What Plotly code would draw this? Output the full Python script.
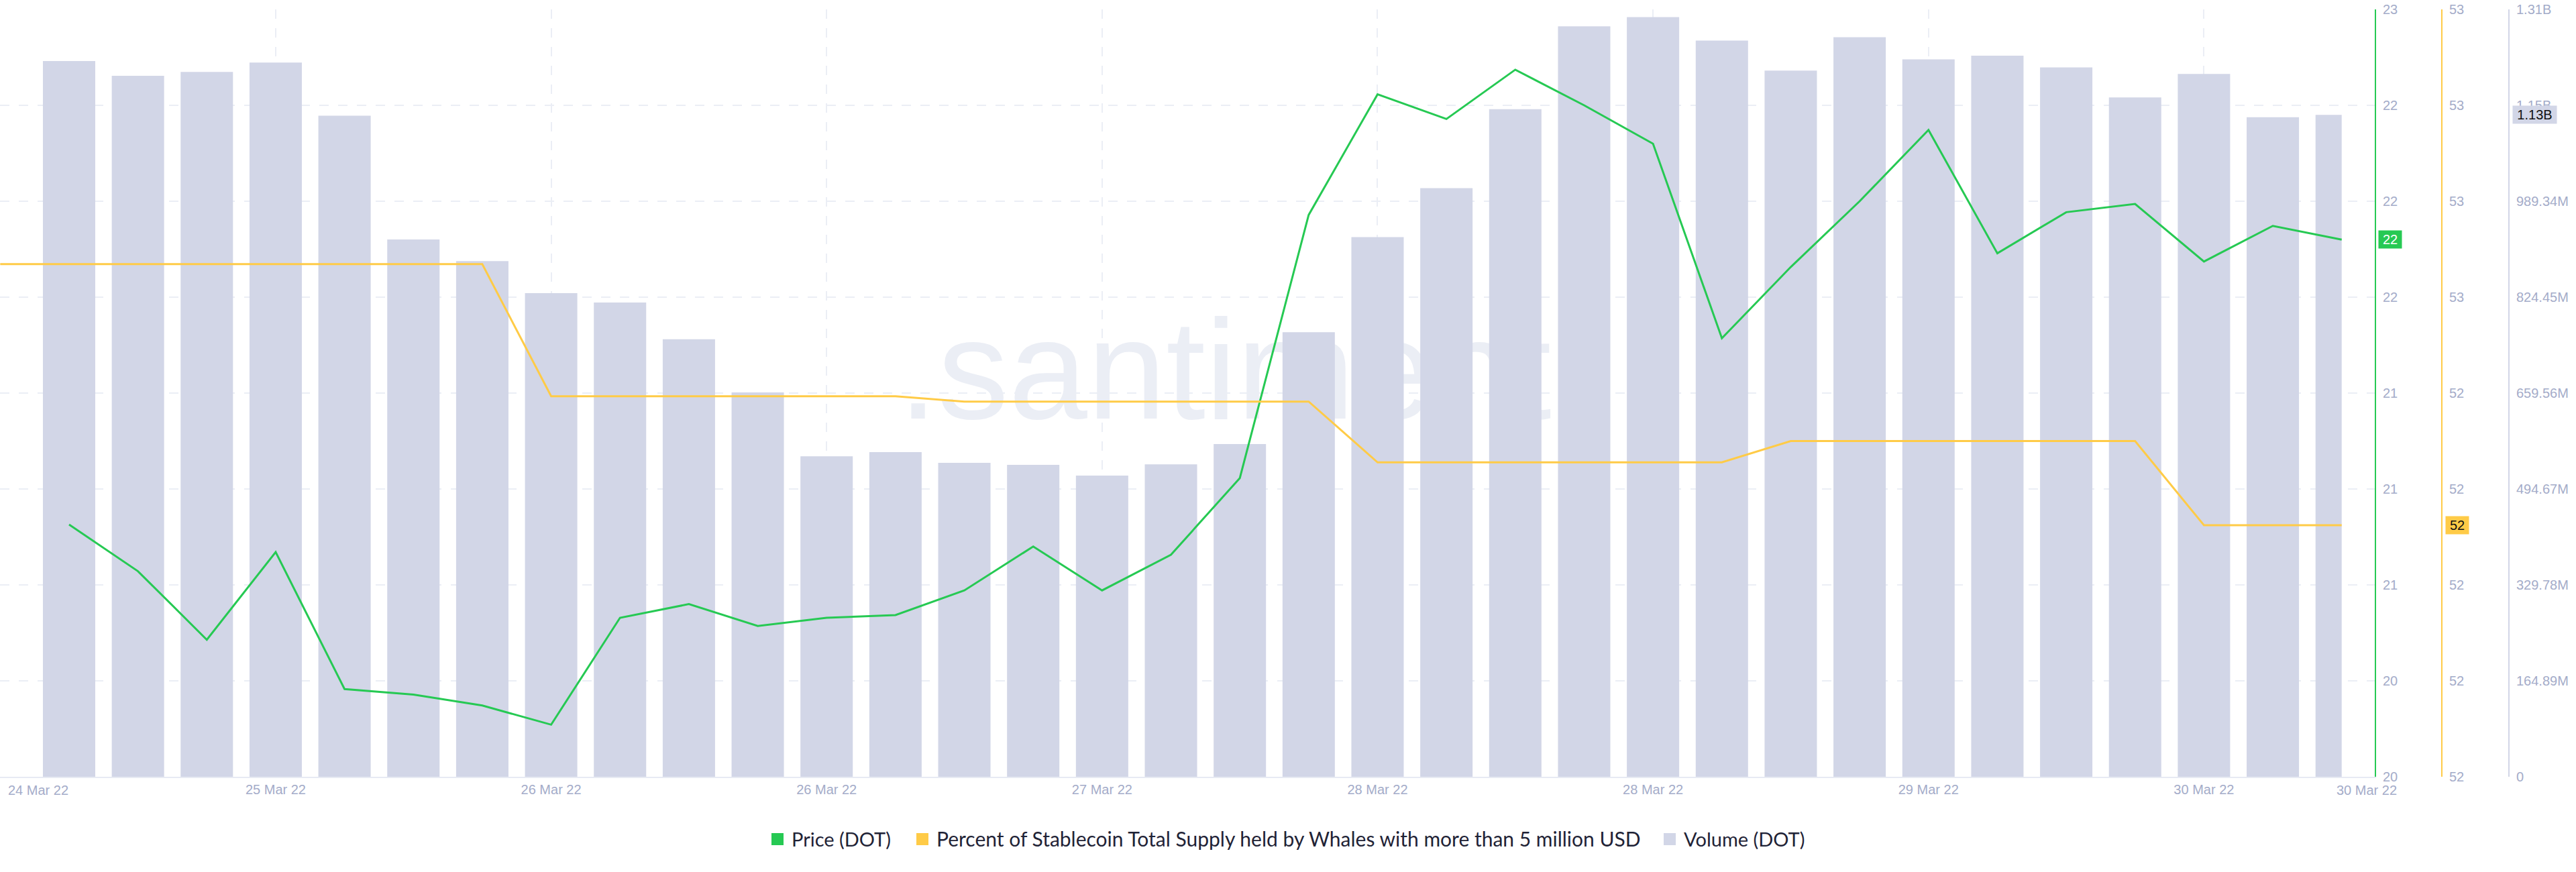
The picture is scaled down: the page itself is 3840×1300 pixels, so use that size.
import plotly.graph_objects as go

W = 3840
H = 1300
PLOT_TOP = 14
PLOT_BOTTOM = 1158

# one point every few hours, the position on the time axis
steps = list(range(-1, 34))

price = [None, 20.82, 20.65, 20.40, 20.72, 20.22, 20.20, 20.16, 20.09, 20.48, 20.53, 20.45,
         20.48, 20.49, 20.58, 20.74, 20.58, 20.71, 20.99, 21.95, 22.39, 22.30, 22.48, 22.35,
         22.21, 21.50, 21.76, 22.00, 22.26, 21.81, 21.96, 21.99, 21.78, 21.91, 21.86]

whales = [52.581, 52.581, 52.581, 52.581, 52.581, 52.581, 52.581, 52.581, 52.457, 52.457, 52.457, 52.457,
          52.457, 52.457, 52.452, 52.452, 52.452, 52.452, 52.452, 52.452, 52.395, 52.395, 52.395, 52.395,
          52.395, 52.395, 52.415, 52.415, 52.415, 52.415, 52.415, 52.415, 52.336, 52.336, 52.336]

volume = [None, 1230.2e6, 1205.1e6, 1211.6e6, 1227.8e6, 1136.4e6, 923.6e6, 886.4e6, 831.4e6, 815.3e6, 752.2e6, 660.8e6,
          550.8e6, 558.1e6, 539.5e6, 536.2e6, 517.6e6, 537.0e6, 571.8e6, 764.3e6, 927.7e6, 1011.8e6, 1147.7e6, 1290.0e6,
          1306.0e6, 1265.5e6, 1213.8e6, 1271.2e6, 1233.2e6, 1239.6e6, 1219.4e6, 1167.7e6, 1208.1e6, 1133.7e6, 1137.7e6]

date_ticks = [-1, 3, 7, 11, 15, 19, 23, 27, 31]
date_labels = ["", "25 Mar 22", "26 Mar 22", "26 Mar 22", "27 Mar 22", "28 Mar 22", "28 Mar 22", "29 Mar 22", "30 Mar 22"]

volume_ticks = [0, 164.89e6, 329.78e6, 494.67e6, 659.56e6, 824.45e6, 989.34e6, 1154.23e6, 1319.12e6]
volume_labels = ["0", "164.89M", "329.78M", "494.67M", "659.56M", "824.45M", "989.34M", "1.15B", "1.31B"]

GREEN = "#26c953"
ORANGE = "#ffcb47"
CASPER = "#d2d6e7"
TICK = "#a4acc9"
GRID = "#ebeef5"
DARK = "#1f2336"
FONT = "Liberation Sans, Arial, sans-serif"

def px_x(v):
    return v / W

def px_y(v):
    # paper coords run over the plot area, not the page
    return (PLOT_BOTTOM - v) / (PLOT_BOTTOM - PLOT_TOP)

fig = go.Figure()

# watermark sits on the base subplot so the bars cover it
fig.add_trace(go.Scatter(x=[17.07], y=[4.1], mode="text", text=[".santiment."], yaxis="y",
                         textposition="middle center", hoverinfo="skip", showlegend=False,
                         textfont=dict(family=FONT, size=211, color=GRID)))

bar_w = [0.76] * (len(steps) - 1) + [0.38]
fig.add_trace(go.Bar(x=steps, y=volume, name="Volume (DOT)", yaxis="y2", marker=dict(color=CASPER, line=dict(width=0)),
                     width=bar_w, offset=[-0.38] * len(steps), showlegend=False))
fig.add_trace(go.Scatter(x=steps, y=whales, name="Percent of Stablecoin Total Supply held by Whales with more than 5 million USD",
                         yaxis="y4", mode="lines", line=dict(color=ORANGE, width=3), showlegend=False))
fig.add_trace(go.Scatter(x=steps, y=price, name="Price (DOT)", yaxis="y3", mode="lines",
                         line=dict(color=GREEN, width=3), showlegend=False))

tick_font = dict(family=FONT, size=20, color=TICK)
fig.update_layout(
    width=W, height=H,
    margin=dict(l=0, r=0, t=PLOT_TOP, b=H - PLOT_BOTTOM),
    paper_bgcolor="white", plot_bgcolor="white",
    font=dict(family=FONT),
    xaxis=dict(domain=[0, 3540 / W], range=[-1.003, 33.48], tickmode="array", tickvals=date_ticks, ticktext=date_labels,
               tickfont=tick_font, showgrid=True, gridcolor=GRID, gridwidth=2, griddash="14px,14px", ticks="",
               zeroline=False, showline=True, linecolor="#e7eaf3", linewidth=2),
    yaxis=dict(range=[0, 8], dtick=1, tick0=0, showgrid=True, gridcolor=GRID, gridwidth=2, griddash="14px,14px",
               showticklabels=False, ticks="", zeroline=False, showline=False),
    yaxis2=dict(overlaying="y", side="right", anchor="free", position=3740 / W, range=[0, 1319.12e6],
                tickmode="array", tickvals=volume_ticks, ticktext=volume_labels, tickfont=tick_font, showgrid=False,
                zeroline=False, showline=True, linecolor=CASPER, linewidth=2, ticks="", ticklabelstandoff=6),
    yaxis3=dict(overlaying="y", side="right", anchor="x", range=[19.9, 22.7], tick0=19.9, dtick=0.35, tickformat=".0f",
                tickfont=tick_font, showgrid=False, zeroline=False, showline=True, linecolor=GREEN, linewidth=2,
                ticks="", ticklabelstandoff=6),
    yaxis4=dict(overlaying="y", side="right", anchor="free", position=3640 / W, range=[52.1, 52.82], tick0=52.1, dtick=0.09,
                tickformat=".0f", tickfont=tick_font, showgrid=False, zeroline=False, showline=True, linecolor=ORANGE,
                linewidth=2, ticks="", ticklabelstandoff=6),
)

# edge date labels get pushed inside the plot, not centred on their tick
fig.add_annotation(text="24 Mar 22", xref="paper", yref="paper", x=px_x(10), y=px_y(1178), xanchor="left", yanchor="middle",
                   showarrow=False, font=tick_font)
fig.add_annotation(text="30 Mar 22", xref="paper", yref="paper", x=px_x(3575), y=px_y(1178), xanchor="right", yanchor="middle",
                   showarrow=False, font=tick_font)

# last value badges on the axes
fig.add_annotation(text="22", xref="paper", yref="y3", x=px_x(3563), y=price[-1], xanchor="center", showarrow=False, width=34, height=26,
                   bgcolor=GREEN, borderpad=0, font=dict(family=FONT, size=20, color="white"))
fig.add_annotation(text="52", xref="paper", yref="y4", x=px_x(3663), y=whales[-1], xanchor="center", showarrow=False, width=34, height=26,
                   bgcolor=ORANGE, borderpad=0, font=dict(family=FONT, size=20, color="#111111"))
fig.add_annotation(text="1.13B", xref="paper", yref="y2", x=px_x(3778), y=volume[-1], xanchor="center", showarrow=False, width=65, height=26,
                   bgcolor=CASPER, borderpad=0, font=dict(family=FONT, size=20, color="#111111"))

# legend row, square swatches with text next to them
legend_row = [("Price (DOT)", GREEN, 1150, 29), ("Percent of Stablecoin Total Supply held by Whales with more than 5 million USD", ORANGE, 1366, 30),
              ("Volume (DOT)", CASPER, 2480, 29)]
for label, colour, left, size in legend_row:
    fig.add_shape(type="rect", xref="paper", yref="paper", x0=px_x(left), x1=px_x(left + 18), y0=px_y(1242), y1=px_y(1260),
                  fillcolor=colour, line=dict(width=0))
    fig.add_annotation(text=label, xref="paper", yref="paper", x=px_x(left + 28), y=px_y(1250), xanchor="left", yanchor="middle",
                       showarrow=False, font=dict(family="Lato, " + FONT, size=size, color=DARK))

# browsers give the body an 8px margin, the chart has to start at the page corner
fig.write_html("out.html", config={"displayModeBar": False}, post_script="document.body.style.margin='0';")
